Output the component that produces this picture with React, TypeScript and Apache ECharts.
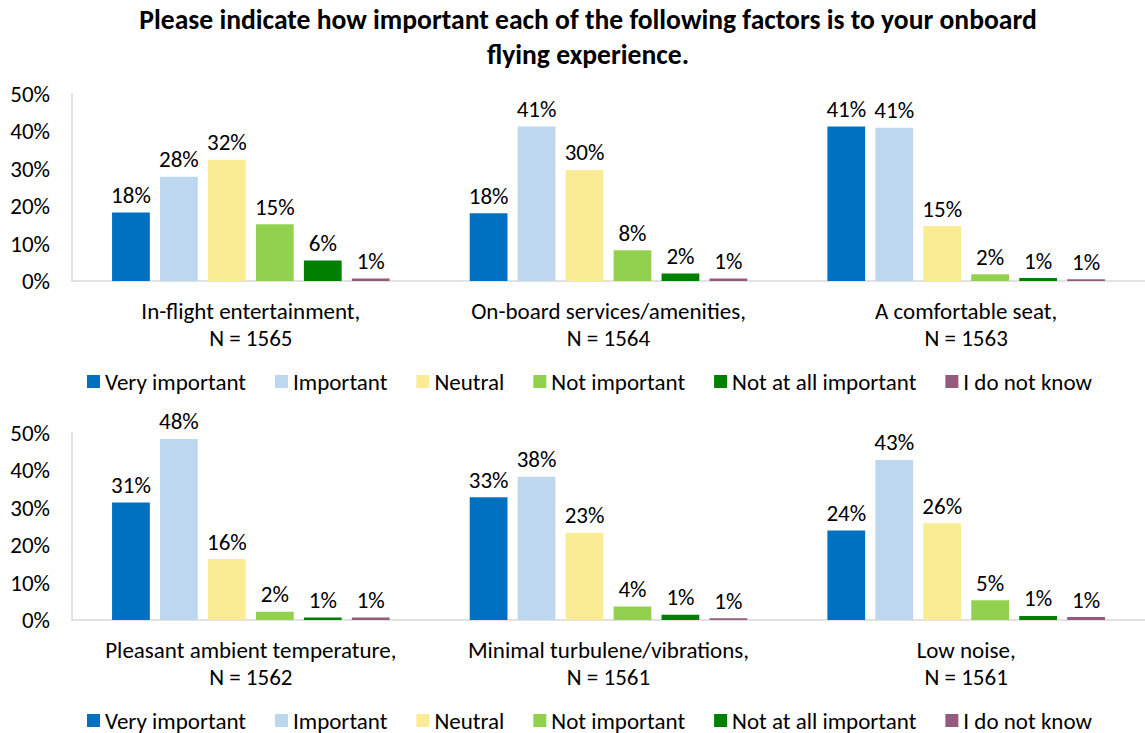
import React, { useEffect, useRef } from "react";
import * as echarts from "echarts";

const titleText = "Please indicate how important each of the following factors is to your onboard\nflying experience.";

const categoriesTop = [
  "In-flight entertainment,\nN = 1565",
  "On-board services/amenities,\nN = 1564",
  "A comfortable seat,\nN = 1563",
];
const categoriesBottom = [
  "Pleasant ambient temperature,\nN = 1562",
  "Minimal turbulene/vibrations,\nN = 1561",
  "Low noise,\nN = 1561",
];

const seriesNames = ["Very important", "Important", "Neutral", "Not important", "Not at all important", "I do not know"];
const seriesColors = ["#0070C0", "#BDD7EE", "#FAEC94", "#92D050", "#008000", "#955B7D"];

const veryImportantTop = [18.3, 18.1, 41.3];
const importantTop = [27.9, 41.3, 41.0];
const neutralTop = [32.4, 29.7, 14.7];
const notImportantTop = [15.2, 8.2, 1.8];
const notAtAllTop = [5.5, 2.0, 0.8];
const dontKnowTop = [0.7, 0.7, 0.5];

const veryImportantBottom = [31.4, 32.8, 23.9];
const importantBottom = [48.4, 38.3, 42.8];
const neutralBottom = [16.3, 23.3, 25.9];
const notImportantBottom = [2.2, 3.6, 5.3];
const notAtAllBottom = [0.7, 1.4, 1.1];
const dontKnowBottom = [0.7, 0.5, 0.8];

const yTicks = [0, 10, 20, 30, 40, 50];

const FONT = "Carlito, Calibri, Lato, sans-serif";

export default function App() {
  const ref = useRef<HTMLDivElement>(null);
  useEffect(() => {
    if (!ref.current) return;
    const chart = echarts.init(ref.current, undefined, { renderer: "svg" });
    const topData = [veryImportantTop, importantTop, neutralTop, notImportantTop, notAtAllTop, dontKnowTop];
    const bottomData = [veryImportantBottom, importantBottom, neutralBottom, notImportantBottom, notAtAllBottom, dontKnowBottom];
    const fs = 23;
    const mkSeries = (data: number[][], idx: number) =>
      data.map((vals, i) => ({
        type: "bar",
        name: seriesNames[i],
        xAxisIndex: idx,
        yAxisIndex: idx,
        data: vals,
        barGap: "27%",
        barCategoryGap: "22.4%",
        itemStyle: { color: seriesColors[i] },
        label: {
          show: true,
          position: "top",
          distance: 6,
          fontSize: fs,
          fontFamily: FONT,
          color: "#000",
          formatter: (p: any) => Math.round(p.value) + "%",
        },
      }));
    const mkX = (cats: string[], gi: number) => ({
      type: "category",
      gridIndex: gi,
      data: cats,
      axisLine: { lineStyle: { color: "#D9D9D9", width: 1.5 } },
      axisTick: { show: false },
      axisLabel: { fontSize: fs, fontFamily: FONT, color: "#000", lineHeight: 27, margin: 16, interval: 0 },
    });
    const mkY = (gi: number) => ({
      type: "value",
      gridIndex: gi,
      min: yTicks[0],
      max: yTicks[yTicks.length - 1],
      interval: 10,
      axisLine: { show: true, lineStyle: { color: "#D9D9D9", width: 1.5 } },
      axisTick: { show: false },
      splitLine: { show: false },
      axisLabel: { fontSize: fs, fontFamily: FONT, color: "#000", margin: 22, formatter: "{value}%" },
    });
    const mkLegend = (top: number) => ({
      top,
      left: 87,
      padding: 0,
      itemWidth: 13,
      itemHeight: 13,
      itemGap: 29,
      icon: "rect",
      data: seriesNames,
      textStyle: { fontSize: fs, fontFamily: FONT, color: "#000" },
    });
    chart.setOption({
      animation: false,
      title: {
        text: titleText,
        left: 588,
        top: 2,
        padding: 0,
        textAlign: "center",
        textStyle: { fontSize: 27.6, fontWeight: "bold", fontFamily: FONT, color: "#000", lineHeight: 35 },
      },
      legend: [mkLegend(370), mkLegend(709)],
      grid: [
        { left: 72, right: -9, top: 94, height: 187 },
        { left: 72, right: -9, top: 433, height: 187 },
      ],
      xAxis: [mkX(categoriesTop, 0), mkX(categoriesBottom, 1)],
      yAxis: [mkY(0), mkY(1)],
      series: [...mkSeries(topData, 0), ...mkSeries(bottomData, 1)],
    });
    return () => chart.dispose();
  }, []);
  return (
    <div
      ref={ref}
      style={{ position: "absolute", left: 0, top: 0, width: 1145, height: 733, background: "#fff" }}
    />
  );
}
